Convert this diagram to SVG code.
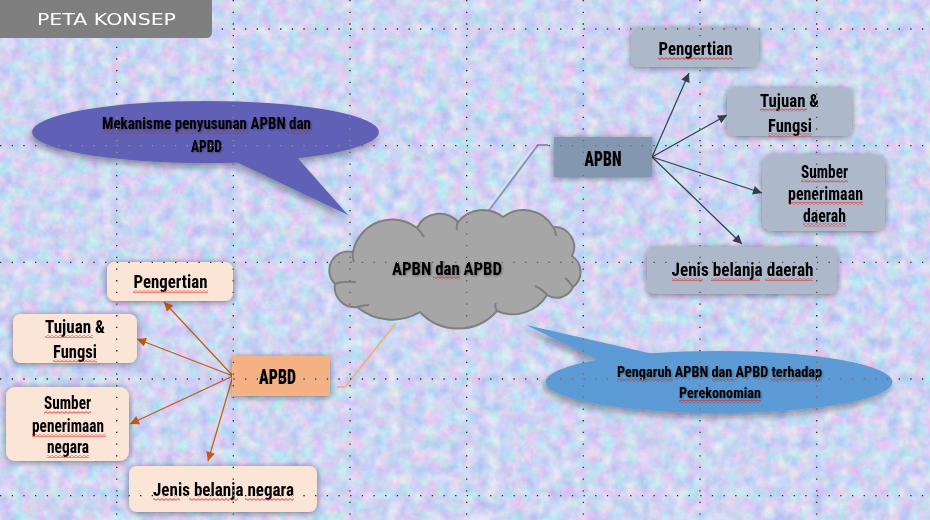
<svg xmlns="http://www.w3.org/2000/svg" width="930" height="520" viewBox="0 0 930 520">
<defs>
<filter id="tex" x="0" y="0" width="100%" height="100%" color-interpolation-filters="sRGB">
<feTurbulence type="fractalNoise" baseFrequency="0.08" numOctaves="4" seed="7" result="n"/>
<feColorMatrix in="n" type="matrix" values="0.4 0 0 0 0.61  0 0.28 0 0 0.7  0 0 0.1 0 0.9  0 0 0 0 1"/>
</filter>
<filter id="sh" x="-20%" y="-30%" width="140%" height="160%">
<feDropShadow dx="0" dy="1" stdDeviation="3" flood-color="#1a1a2a" flood-opacity="0.55"/>
</filter>
<filter id="shE" x="-10%" y="-30%" width="120%" height="170%">
<feDropShadow dx="-2" dy="4" stdDeviation="3" flood-color="#1a1a2a" flood-opacity="0.4"/>
</filter>
<filter id="tsh" x="-5%" y="-30%" width="110%" height="160%">
<feDropShadow dx="1" dy="1" stdDeviation="0.8" flood-color="#000" flood-opacity="0.35"/>
</filter>
<pattern id="wave" width="4" height="3" patternUnits="userSpaceOnUse">
<path d="M0,2.4 L2,0.6 L4,2.4" fill="none" stroke="#e3201c" stroke-width="0.9"/>
</pattern>
<marker id="arN" viewBox="0 0 10 10" refX="10" refY="5" markerWidth="11" markerHeight="9" markerUnits="userSpaceOnUse" orient="auto">
<path d="M0,0 L10,5 L0,10 z" fill="#333f50"/>
</marker>
<marker id="arD" viewBox="0 0 10 10" refX="10" refY="5" markerWidth="11" markerHeight="9" markerUnits="userSpaceOnUse" orient="auto">
<path d="M0,0 L10,5 L0,10 z" fill="#c55a11"/>
</marker>
</defs>
<style>
.t{font-family:"Roboto Condensed","DejaVu Sans Condensed","Liberation Sans Narrow",Roboto,sans-serif;fill:#000;text-anchor:middle;font-weight:700}
.l{font-size:18.5px}
.s{font-size:18.5px}
.e{font-size:16px}
.f{font-size:14.5px}
.b{font-size:21px;font-weight:900}
.u{fill:url(#wave)}
.bn{fill:#adb9ca;filter:url(#sh)}
.bd{fill:#fbe5d6;filter:url(#sh)}
.cn{stroke:#333f50;stroke-width:1.2;fill:none;marker-end:url(#arN)}
.cd{stroke:#c55a11;stroke-width:1.2;fill:none;marker-end:url(#arD)}
.grid{stroke:#fff;stroke-width:1.3;stroke-dasharray:1.3 10.37;fill:none}
</style>

<rect width="930" height="520" fill="#cdd6f2"/>
<rect width="930" height="520" filter="url(#tex)"/>

<g id="connectors">
<polyline points="481,219 532,151 542,151" fill="none" stroke="#e8eefa" stroke-opacity="0.45" stroke-width="5"/>
<polyline points="487,213 538,145 548,145" fill="none" stroke="#8497b0" stroke-width="2"/>
<polyline points="396,323 345,387 337,387" fill="none" stroke="#f4b183" stroke-width="2"/>
<line class="cn" x1="652" y1="157" x2="689" y2="73"/>
<line class="cn" x1="652" y1="157" x2="727" y2="115"/>
<line class="cn" x1="652" y1="157" x2="762" y2="193"/>
<line class="cn" x1="652" y1="157" x2="742" y2="244"/>
<line class="cd" x1="233" y1="376" x2="164" y2="302"/>
<line class="cd" x1="233" y1="376" x2="137" y2="339"/>
<line class="cd" x1="233" y1="376" x2="130" y2="424"/>
<line class="cd" x1="233" y1="376" x2="208" y2="461"/>
</g>

<g id="callout-mekanisme">
<g filter="url(#shE)" fill="#6161b7">
<ellipse cx="205.5" cy="132" rx="173.5" ry="31"/>
<polygon points="228,158 348,215 295,155"/>
</g>
<g filter="url(#tsh)">
<text class="t e" x="206.5" y="129" textLength="209" lengthAdjust="spacingAndGlyphs">Mekanisme penyusunan APBN dan</text>
<text class="t e" x="206.5" y="152" textLength="31" lengthAdjust="spacingAndGlyphs">APBD</text>
</g>
<rect class="u" x="102" y="131" width="70" height="3"/>
<rect class="u" x="174" y="131" width="75" height="3"/>
<rect class="u" x="287" y="131" width="24" height="3"/>
</g>

<g id="callout-pengaruh">
<g filter="url(#shE)" fill="#5b9bd5">
<ellipse cx="719" cy="382" rx="173.5" ry="31"/>
<polygon points="602,362 526,325 662,356"/>
</g>
<g filter="url(#tsh)">
<text class="t f" x="719.5" y="377" textLength="205" lengthAdjust="spacingAndGlyphs">Pengaruh APBN dan APBD terhadap</text>
<text class="t f" x="720" y="398" textLength="82" lengthAdjust="spacingAndGlyphs">Perekonomian</text>
</g>
<rect class="u" x="617" y="379" width="56" height="3"/>
<rect class="u" x="712" y="379" width="23" height="3"/>
<rect class="u" x="770" y="379" width="52" height="3"/>
<rect class="u" x="679" y="400" width="82" height="3"/>
</g>

<g id="cloud">
<path d="M353,252 A40,40 0 0 1 417,228 A25,25 0 0 1 458,222 A32,32 0 0 1 503,217 A34,34 0 0 1 553,227 A20,20 0 0 1 572,256 A19,19 0 0 1 573,287 A18,18 0 0 1 547,295 A40,40 0 0 1 497,311 A52,52 0 0 1 420,312 A55,55 0 0 1 357,307 A20,20 0 0 1 335,284 A19,19 0 0 1 353,252 Z" fill="#a6a6a6" stroke="#7f7f7f" stroke-width="2"/>
<path d="M353,252 Q352,258 354,262 M417,228 Q422,233 424,237 M458,222 Q456,226 457,230 M553,227 Q556,231 556,236 M573,287 Q568,280 565,278 M547,295 Q542,289 535,286 M497,311 Q494,306 496,303 M357,307 Q364,305 369,305 M335,284 Q341,281 356,282" fill="none" stroke="#7f7f7f" stroke-width="2"/>
<text class="t l" x="447" y="275" textLength="110" lengthAdjust="spacingAndGlyphs" filter="url(#tsh)">APBN dan APBD</text>
<rect class="u" x="433" y="276.5" width="27" height="3"/>
</g>

<g id="apbn">
<rect x="554" y="137" width="98" height="40" fill="#8497b0" filter="url(#sh)"/>
<text class="t b" x="603" y="166" textLength="37" lengthAdjust="spacingAndGlyphs">APBN</text>
</g>
<g id="apbn-pengertian">
<rect class="bn" x="631" y="28" width="128" height="39" rx="8"/>
<text class="t l" x="695.5" y="55" textLength="74" lengthAdjust="spacingAndGlyphs">Pengertian</text>
<rect class="u" x="658" y="57" width="75" height="3"/>
</g>
<g id="apbn-tujuan">
<rect class="bn" x="727" y="88" width="125" height="48" rx="8"/>
<text class="t l" x="789.5" y="107" textLength="59" lengthAdjust="spacingAndGlyphs">Tujuan &amp;</text>
<text class="t l" x="790" y="132" textLength="44" lengthAdjust="spacingAndGlyphs">Fungsi</text>
<rect class="u" x="760" y="108.5" width="47" height="3"/>
<rect class="u" x="768" y="133.5" width="44" height="3"/>
</g>
<g id="apbn-sumber">
<rect class="bn" x="762" y="155" width="123" height="76" rx="9"/>
<text class="t s" x="824.5" y="178" textLength="47" lengthAdjust="spacingAndGlyphs">Sumber</text>
<text class="t s" x="825.5" y="200" textLength="75" lengthAdjust="spacingAndGlyphs">penerimaan</text>
<text class="t s" x="824.5" y="222" textLength="43" lengthAdjust="spacingAndGlyphs">daerah</text>
<rect class="u" x="801" y="179.5" width="47" height="3"/>
<rect class="u" x="788" y="202" width="75" height="3"/>
<rect class="u" x="803" y="223.5" width="43" height="3"/>
</g>
<g id="apbn-jenis">
<rect class="bn" x="647" y="247" width="190" height="47" rx="8"/>
<text class="t l" x="742.5" y="276" textLength="142" lengthAdjust="spacingAndGlyphs">Jenis belanja daerah</text>
<rect class="u" x="672" y="278" width="31" height="3"/>
<rect class="u" x="711" y="278" width="49" height="3"/>
<rect class="u" x="765" y="278" width="48" height="3"/>
</g>

<g id="apbd">
<rect x="232" y="356" width="98" height="40" fill="#f4b183" filter="url(#sh)"/>
<text class="t b" x="277.5" y="384" textLength="37" lengthAdjust="spacingAndGlyphs">APBD</text>
</g>
<g id="apbd-pengertian">
<rect class="bd" x="107" y="262" width="126" height="39" rx="8"/>
<text class="t l" x="170.5" y="288" textLength="74" lengthAdjust="spacingAndGlyphs">Pengertian</text>
<rect class="u" x="133" y="290" width="75" height="3"/>
</g>
<g id="apbd-tujuan">
<rect class="bd" x="13" y="314" width="124" height="49" rx="8"/>
<text class="t l" x="75" y="333" textLength="60" lengthAdjust="spacingAndGlyphs">Tujuan &amp;</text>
<text class="t l" x="75" y="358" textLength="44" lengthAdjust="spacingAndGlyphs">Fungsi</text>
<rect class="u" x="45" y="335" width="48" height="3"/>
<rect class="u" x="53" y="359.5" width="44" height="3"/>
</g>
<g id="apbd-sumber">
<rect class="bd" x="6" y="387" width="123" height="74" rx="9"/>
<text class="t s" x="67.5" y="409" textLength="47" lengthAdjust="spacingAndGlyphs">Sumber</text>
<text class="t s" x="68" y="432" textLength="72" lengthAdjust="spacingAndGlyphs">penerimaan</text>
<text class="t s" x="68" y="453" textLength="42" lengthAdjust="spacingAndGlyphs">negara</text>
<rect class="u" x="44" y="411" width="47" height="3"/>
<rect class="u" x="32" y="434" width="74" height="3"/>
<rect class="u" x="47" y="455" width="42" height="3"/>
</g>
<g id="apbd-jenis">
<rect class="bd" x="129" y="466" width="188" height="46" rx="8"/>
<text class="t l" x="223.5" y="496" textLength="141" lengthAdjust="spacingAndGlyphs">Jenis belanja negara</text>
<rect class="u" x="153" y="498" width="27" height="3"/>
<rect class="u" x="189" y="498" width="49" height="3"/>
<rect class="u" x="245" y="498" width="49" height="3"/>
</g>

<g id="grid" class="grid" style="mix-blend-mode:difference">
<path d="M0,29H930M0,145.7H930M0,262.3H930M0,379H930M0,495.7H930"/>
<path d="M116.7,0V520M233.3,0V520M350,0V520M466.7,0V520M583.3,0V520M700,0V520M816.7,0V520"/>
</g>

<g id="header">
<path d="M0,0 H212 V32 Q212,38 206,38 H0 Z" fill="#7f7f7f"/>
<text x="106.5" y="25" font-family="'DejaVu Sans',sans-serif" font-size="16" fill="#fff" text-anchor="middle" textLength="139" lengthAdjust="spacingAndGlyphs">PETA KONSEP</text>
</g>
</svg>
